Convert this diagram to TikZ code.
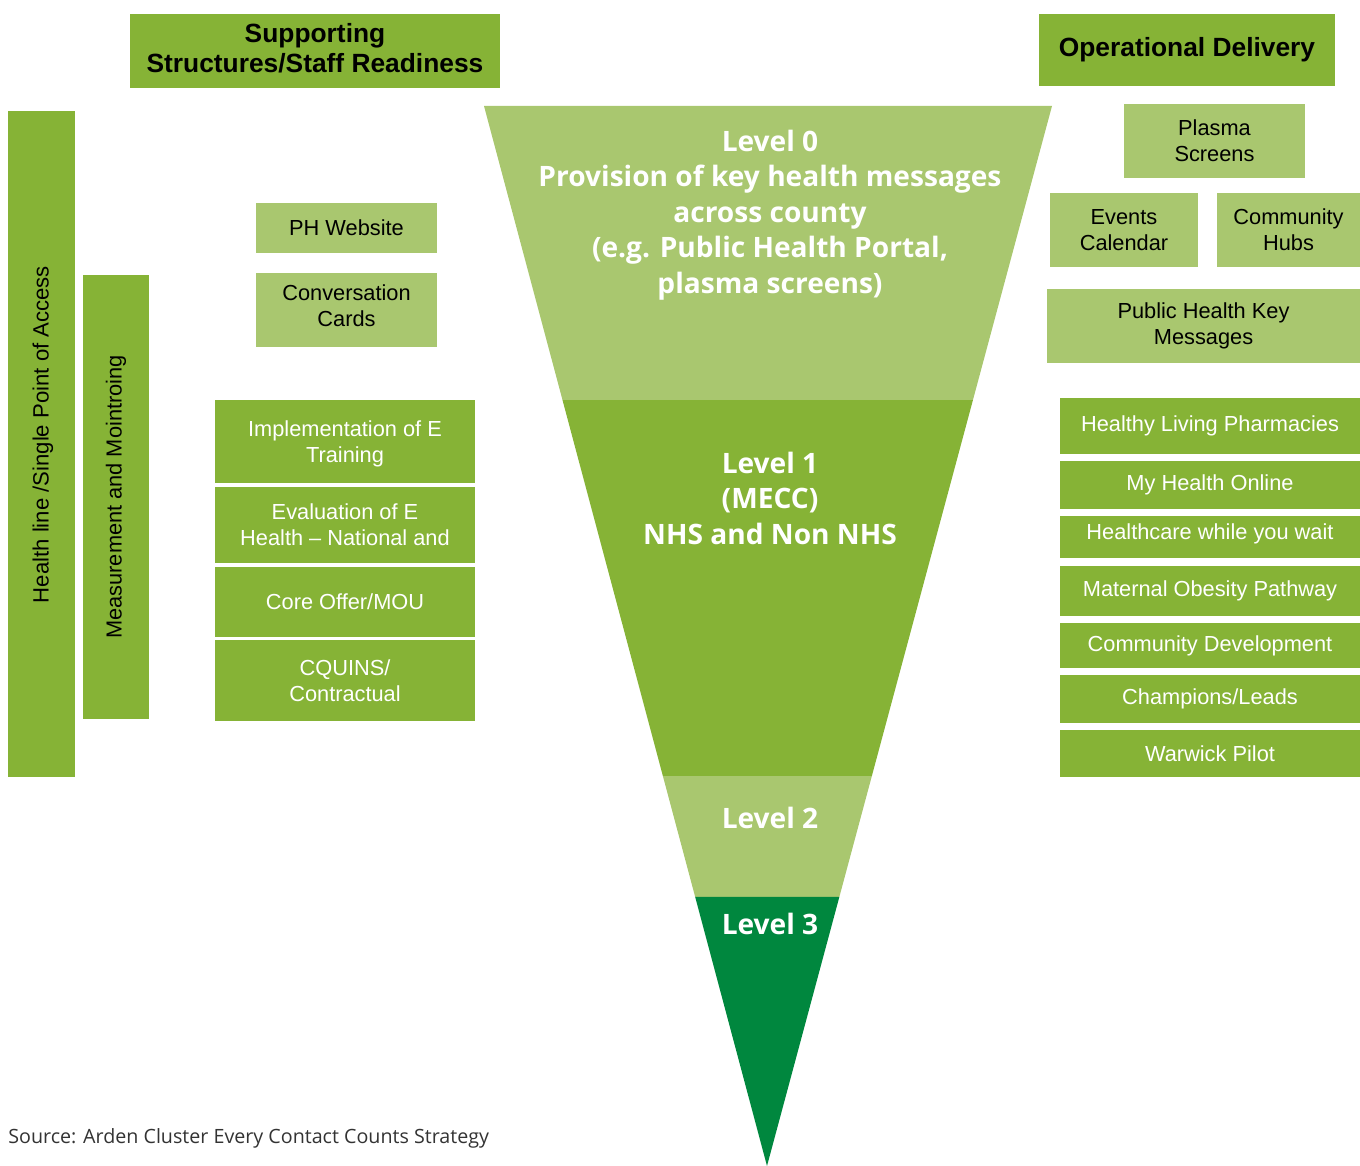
\documentclass[tikz,border=0pt]{standalone}
\usepackage{fontspec}
\setmainfont{Liberation Sans}
\newfontfamily\levelfont{Open Sans}
\usetikzlibrary{calc}

\definecolor{leafgreen}{HTML}{86B336}
\definecolor{palegreen}{HTML}{A9C76F}
\definecolor{deepgreen}{HTML}{00873E}

\begin{document}
\begin{tikzpicture}[x=0.02cm, y=-0.02cm,
  every node/.style={inner sep=0pt, align=center, font=\fontsize{12.4}{14.7}\selectfont},
  head/.style={fill=leafgreen, font=\fontsize{15}{17}\selectfont\bfseries},
  dark/.style={fill=leafgreen, text=white},
  light/.style={fill=palegreen},
  bar/.style={fill=leafgreen, rotate=90},
  level/.style={text=white, font=\levelfont\fontsize{16}{20.2}\selectfont\bfseries}]

  \useasboundingbox (0,0) rectangle (1360,1166);

  % headings
  \node[head, minimum width=7.4cm, minimum height=1.48cm] (support) at (315,51) {};
  \node[font=\fontsize{15}{17}\selectfont\bfseries] (supporttext) at (315,48) {Supporting\\Structures/Staff Readiness};
  \node[head, minimum width=5.92cm, minimum height=1.44cm] (delivery) at (1187,50) {Operational Delivery};

  % left side
  \node[bar, minimum width=13.32cm, minimum height=1.34cm] (access) at (41.5,444) {};
  \node[rotate=90, font=\fontsize{12.6}{14.7}\selectfont] (accesstext) at (43,434.5) {Health line /Single Point of Access};
  \node[bar, minimum width=8.88cm, minimum height=1.32cm] (monitor) at (116,497) {Measurement and Mointroing};

  \node[light, minimum width=3.62cm, minimum height=1.0cm] (website) at (346.5,228) {PH Website};
  \node[light, minimum width=3.62cm, minimum height=1.48cm] (cards) at (346.5,310) {};
  \node (cardstext) at (346.5,305.5) {Conversation\\Cards};

  \node[dark, minimum width=5.2cm, minimum height=1.66cm] (impl) at (345,441.5) {};
  \node[text=white] (impltext) at (345,443.5) {Implementation of E\\Training};
  \node[dark, minimum width=5.2cm, minimum height=1.52cm] (eval) at (345,525) {Evaluation of E\\Health -- National and};
  \node[dark, minimum width=5.2cm, minimum height=1.4cm] (core) at (345,602) {Core Offer/MOU};
  \node[dark, minimum width=5.2cm, minimum height=1.62cm] (cquins) at (345,680.5) {CQUINS/\\Contractual};

  % right side
  \node[light, minimum width=3.62cm, minimum height=1.48cm] (plasma) at (1214.5,141) {Plasma\\Screens};
  \node[light, minimum width=2.96cm, minimum height=1.48cm] (events) at (1124,230) {Events\\Calendar};
  \node[light, minimum width=2.86cm, minimum height=1.48cm] (hubs) at (1288.5,230) {Community\\Hubs};
  \node[light, minimum width=6.26cm, minimum height=1.48cm] (keymsg) at (1203.5,326) {Public Health Key\\Messages};

  \node[dark, minimum width=6cm, minimum height=1.12cm] (pharm) at (1210,426) {Healthy Living Pharmacies};
  \node[dark, minimum width=6cm, minimum height=0.96cm] (online) at (1210,485) {My Health Online};
  \node[dark, minimum width=6cm, minimum height=0.84cm] (wait) at (1210,537) {};
  \node[text=white] (waittext) at (1210,534) {Healthcare while you wait};
  \node[dark, minimum width=6cm, minimum height=1.0cm] (obesity) at (1210,591) {Maternal Obesity Pathway};
  \node[dark, minimum width=6cm, minimum height=0.9cm] (commdev) at (1210,645.5) {Community Development};
  \node[dark, minimum width=6cm, minimum height=0.96cm] (leads) at (1210,699) {Champions/Leads};
  \node[dark, minimum width=6cm, minimum height=0.94cm] (warwick) at (1210,753.5) {Warwick Pilot};

  % funnel
  \coordinate (tl) at (484,106);
  \coordinate (tr) at (1052,106);
  \coordinate (tip) at (767,1166);

  \fill[palegreen] (tl) -- (tr) -- ($(tr)!0.2774!(tip)$) -- ($(tl)!0.2774!(tip)$) -- cycle;
  \fill[leafgreen] ($(tl)!0.2774!(tip)$) -- ($(tr)!0.2774!(tip)$) -- ($(tr)!0.6321!(tip)$) -- ($(tl)!0.6321!(tip)$) -- cycle;
  \fill[palegreen] ($(tl)!0.6321!(tip)$) -- ($(tr)!0.6321!(tip)$) -- ($(tr)!0.7462!(tip)$) -- ($(tl)!0.7462!(tip)$) -- cycle;
  \fill[deepgreen] ($(tl)!0.7462!(tip)$) -- ($(tr)!0.7462!(tip)$) -- (tip) -- cycle;

  \node[level] (lev0) at (770,215) {Level 0\\Provision of key health messages\\across county\\(e.g. Public Health Portal,\\plasma screens)};
  \node[level] (lev1) at (770,498) {Level 1\\(MECC)\\NHS and Non NHS};
  \node[level] (lev2) at (770,818) {Level 2};
  \node[level] (lev3) at (770,924) {Level 3};

  % footnote
  \node[anchor=west, text=black!80, font=\levelfont\fontsize{11.2}{13}\selectfont] (source) at (8,1138) {Source: Arden Cluster Every Contact Counts Strategy};

\end{tikzpicture}
\end{document}
